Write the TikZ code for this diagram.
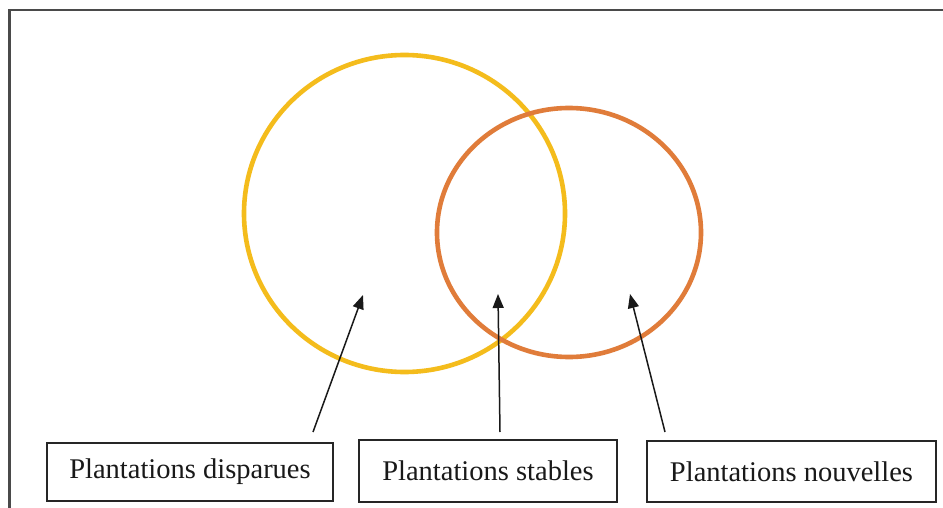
\documentclass[tikz,border=0pt]{standalone}
\usepackage{fontspec}
\setmainfont{Liberation Serif}
\usetikzlibrary{arrows.meta,shapes.geometric}
\definecolor{ringyellow}{HTML}{F4BC1C}
\definecolor{ringorange}{HTML}{E07C3A}
\definecolor{framegray}{HTML}{4A4A4A}
\tikzset{
  ring/.style={draw=#1, line width=4.6pt, ellipse, inner sep=0pt},
  labelbox/.style={draw=black!85, line width=1.8pt, rectangle, inner sep=0pt, font=\fontsize{28.5}{33}\selectfont, text=black!90},
  pointer/.style={line width=1.5pt, black!90, -{Triangle[length=14pt,width=11pt]}}
}
\begin{document}
\begin{tikzpicture}[x=1pt,y=-1pt]
\useasboundingbox (0,0) rectangle (943,508);
\fill[white] (0,0) rectangle (943,508);
\draw[framegray, line width=2.4pt] (943,10) -- (9.5,10) -- (9.5,508);
\node[ring=ringyellow, minimum width=321pt, minimum height=317pt] (yel) at (404.5,213.5) {};
\node[ring=ringorange, minimum width=264pt, minimum height=249pt] (ora) at (569,232.5) {};
\node[labelbox, minimum width=286pt, minimum height=58pt] (b1) at (190,472) {Plantations disparues};
\node[labelbox, minimum width=258pt, minimum height=62pt] (b2) at (488,471) {Plantations stables};
\node[labelbox, minimum width=289pt, minimum height=61pt] (b3) at (791.5,471.5) {Plantations nouvelles};
\coordinate (t1) at (313,432);
\coordinate (h1) at (363,295);
\coordinate (t2) at (500,432);
\coordinate (h2) at (498,294);
\coordinate (t3) at (665,432);
\coordinate (h3) at (630,294);
\draw[pointer] (t1) -- (h1);
\draw[pointer] (t2) -- (h2);
\draw[pointer] (t3) -- (h3);
\end{tikzpicture}
\end{document}
